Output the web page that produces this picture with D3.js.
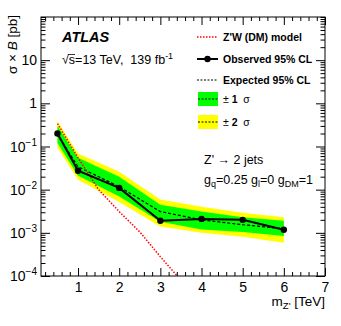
<!DOCTYPE html>
<html>
<head>
<meta charset="utf-8">
<script src="https://cdn.jsdelivr.net/npm/d3@7"></script>
<style>
  body { margin: 0; background: #fff; }
  svg { font-family: "Liberation Sans", Arial, sans-serif; }
  .axis path { display: none; }
  .axis line { stroke: #000; stroke-width: 1; }
  .axis text { font-size: 14px; fill: #000; }
</style>
</head>
<body>
<svg id="chart" width="341" height="326"></svg>
<script>
// mass points (TeV) of the limit
const massPoints = [0.5, 1, 2, 3, 4, 5, 6];
const observed = [0.2, 0.0275, 0.011, 0.0019, 0.0021, 0.002, 0.00118];
const expected = [0.19, 0.034, 0.0117, 0.0031, 0.0020, 0.00154, 0.00124];
const minus1 = [0.12, 0.021, 0.0069, 0.0018, 0.0012, 0.00105, 0.00085];
const plus1 = [0.30, 0.055, 0.020, 0.0045, 0.0031, 0.0023, 0.0019];
const minus2 = [0.095, 0.017, 0.0052, 0.0014, 0.0010, 0.00081, 0.00059];
const plus2 = [0.38, 0.069, 0.026, 0.0059, 0.0040, 0.0029, 0.0023];

// Z'W (DM) model curve
const modelMass = [0.5, 1, 1.5, 2, 2.5, 3, 3.5];
const modelXsec = [0.34, 0.055, 0.01, 0.0031, 0.00105, 0.00028, 0.00008];

const xTicks = [1, 2, 3, 4, 5, 6, 7];
const yTicks = [1e-4, 1e-3, 1e-2, 1e-1, 1, 10];
const yTickLabels = [["10", "\u22124"], ["10", "\u22123"], ["10", "\u22122"], ["10", "\u22121"], ["1", ""], ["10", ""]];

const svg = d3.select("#chart");
const mLeft = 41, mRight = 325, mTop = 17, mBottom = 276;

const x = d3.scaleLinear().domain([0.1, 7]).range([mLeft, mRight]);
const y = d3.scaleLog().domain([1e-4, 100]).range([mBottom, mTop]);

svg.append("clipPath").attr("id", "clip")
  .append("rect").attr("x", mLeft).attr("y", mTop).attr("width", mRight - mLeft).attr("height", mBottom - mTop);

const plot = svg.append("g").attr("clip-path", "url(#clip)");

// bands
const band = (lo, hi) => d3.area()
  .x((d, i) => x(massPoints[i]))
  .y0((d, i) => y(lo[i]))
  .y1((d, i) => y(hi[i]));

plot.append("path").datum(massPoints).attr("d", band(minus2, plus2)).attr("fill", "#ffff00");
plot.append("path").datum(massPoints).attr("d", band(minus1, plus1)).attr("fill", "#00ff00");

const line = (vals, xs) => d3.line()
  .x((d, i) => x(xs[i]))
  .y((d, i) => y(vals[i]));

plot.append("path").datum(massPoints).attr("d", line(expected, massPoints))
  .attr("fill", "none").attr("stroke", "#000").attr("stroke-width", 1.2).attr("stroke-dasharray", "3,2");

plot.append("path").datum(modelMass).attr("d", line(modelXsec, modelMass))
  .attr("fill", "none").attr("stroke", "#ff0000").attr("stroke-width", 1.5).attr("stroke-dasharray", "1.5,1.5");

plot.append("path").datum(massPoints).attr("d", line(observed, massPoints))
  .attr("fill", "none").attr("stroke", "#000").attr("stroke-width", 2);

plot.selectAll("circle.obs").data(massPoints).enter().append("circle")
  .attr("class", "obs")
  .attr("cx", d => x(d))
  .attr("cy", (d, i) => y(observed[i]))
  .attr("r", 3.2).attr("fill", "#000");

// axes (ROOT style: ticks inward, mirrored)
const xMinor = d3.range(2, 70, 2).map(d => d / 10).filter(d => d % 1 !== 0);
const yMinor = y.ticks().filter(d => yTicks.indexOf(d) < 0);

svg.append("g").attr("class", "axis").attr("transform", `translate(0,${mBottom})`)
  .call(d3.axisBottom(x).tickValues(xMinor).tickSize(-4).tickFormat(""));
svg.append("g").attr("class", "axis").attr("transform", `translate(0,${mBottom})`)
  .call(d3.axisBottom(x).tickValues(xTicks).tickSize(-8).tickFormat(d3.format("d")))
  .selectAll("text").attr("y", 5).attr("dy", "0.8em");
svg.append("g").attr("class", "axis").attr("transform", `translate(0,${mTop})`)
  .call(d3.axisTop(x).tickValues(xMinor).tickSize(-4).tickFormat(""));
svg.append("g").attr("class", "axis").attr("transform", `translate(0,${mTop})`)
  .call(d3.axisTop(x).tickValues(xTicks).tickSize(-8).tickFormat(""));

svg.append("g").attr("class", "axis").attr("transform", `translate(${mLeft},0)`)
  .call(d3.axisLeft(y).tickValues(yMinor).tickSize(-4.5).tickFormat(""));
svg.append("g").attr("class", "axis").attr("transform", `translate(${mLeft},0)`)
  .call(d3.axisLeft(y).tickValues(yTicks).tickSize(-9).tickFormat(""));
svg.append("g").attr("class", "axis").attr("transform", `translate(${mRight},0)`)
  .call(d3.axisRight(y).tickValues(yMinor).tickSize(-4.5).tickFormat(""));
svg.append("g").attr("class", "axis").attr("transform", `translate(${mRight},0)`)
  .call(d3.axisRight(y).tickValues(yTicks).tickSize(-9).tickFormat(""));

// y tick labels with superscripts
yTicks.forEach((v, i) => {
  const t = svg.append("text").attr("x", 37).attr("y", y(v) + 5)
    .attr("text-anchor", "end").attr("font-size", 14);
  t.append("tspan").text(yTickLabels[i][0]);
  if (yTickLabels[i][1]) {
    t.append("tspan").attr("dy", -6).attr("font-size", 10).text(yTickLabels[i][1]);
  }
});

// frame
svg.append("rect").attr("x", mLeft).attr("y", mTop).attr("width", mRight - mLeft).attr("height", mBottom - mTop)
  .attr("fill", "none").attr("stroke", "#000").attr("stroke-width", 1);

// axis titles
const xt = svg.append("text").attr("x", mRight).attr("y", 306).attr("text-anchor", "end").attr("font-size", 13.5);
xt.append("tspan").text("m");
xt.append("tspan").attr("dy", 3).attr("font-size", 9.5).text("Z'");
xt.append("tspan").attr("dy", -3).text("\u00a0[TeV]");

const yt = svg.append("text").attr("transform", "translate(17,15) rotate(-90)")
  .attr("text-anchor", "end").attr("font-size", 13.5);
yt.append("tspan").text("\u03c3 \u00d7 ");
yt.append("tspan").attr("font-style", "italic").text("B");
yt.append("tspan").text(" [pb]");

// ATLAS label
svg.append("text").attr("x", 62).attr("y", 42).attr("font-size", 14.5)
  .attr("font-weight", "bold").attr("font-style", "italic").text("ATLAS");
const en = svg.append("text").attr("x", 62).attr("y", 64).attr("font-size", 12.5);
en.append("tspan").text("\u221as=13 TeV,\u00a0\u00a0139 fb");
en.append("tspan").attr("dy", -5).attr("font-size", 9).text("-1");
// overline on sqrt
svg.append("line").attr("x1", 68).attr("x2", 75).attr("y1", 54.5).attr("y2", 54.5)
  .attr("stroke", "#000").attr("stroke-width", 0.8);

// legend
const lx0 = 197, lx1 = 218, tx = 223;
const legend = svg.append("g").attr("font-size", 10.5).attr("font-weight", "bold");
legend.append("line").attr("x1", lx0).attr("x2", lx1).attr("y1", 37).attr("y2", 37)
  .attr("stroke", "#ff0000").attr("stroke-width", 1.5).attr("stroke-dasharray", "1.5,1.5");
legend.append("text").attr("x", tx).attr("y", 41).text("Z'W (DM) model");

legend.append("line").attr("x1", lx0).attr("x2", lx1).attr("y1", 59).attr("y2", 59)
  .attr("stroke", "#000").attr("stroke-width", 2);
legend.append("circle").attr("cx", (lx0 + lx1) / 2).attr("cy", 59).attr("r", 3.2).attr("fill", "#000");
legend.append("text").attr("x", tx).attr("y", 63).text("Observed 95% CL");

legend.append("line").attr("x1", lx0).attr("x2", lx1).attr("y1", 80).attr("y2", 80)
  .attr("stroke", "#000").attr("stroke-width", 1.2).attr("stroke-dasharray", "2,1.5");
legend.append("text").attr("x", tx).attr("y", 84).text("Expected 95% CL");

[["#00ff00", 92, "1"], ["#ffff00", 115, "2"]].forEach(([c, yy, n]) => {
  legend.append("rect").attr("x", lx0 + 1).attr("y", yy).attr("width", lx1 - lx0 - 1).attr("height", 14).attr("fill", c);
  legend.append("line").attr("x1", lx0 + 1).attr("x2", lx1).attr("y1", yy + 7).attr("y2", yy + 7)
    .attr("stroke", "#000").attr("stroke-width", 1).attr("stroke-dasharray", "2,1.5");
  const t = legend.append("text").attr("x", tx).attr("y", yy + 11);
  t.append("tspan").attr("font-weight", "normal").text("\u00b1\u00a0");
  t.append("tspan").text(n);
  t.append("tspan").attr("font-weight", "normal").text("\u00a0\u00a0\u03c3");
});

// process labels
svg.append("text").attr("x", 204).attr("y", 164).attr("font-size", 12.5).text("Z' \u2192 2 jets");
const gl = svg.append("text").attr("x", 204).attr("y", 184).attr("font-size", 12.5);
gl.append("tspan").text("g");
gl.append("tspan").attr("dy", 3).attr("font-size", 9).text("q");
gl.append("tspan").attr("dy", -3).text("=0.25 g");
gl.append("tspan").attr("dy", 3).attr("font-size", 9).text("l");
gl.append("tspan").attr("dy", -3).text("=0 g");
gl.append("tspan").attr("dy", 3).attr("font-size", 9).text("DM");
gl.append("tspan").attr("dy", -3).text("=1");
</script>
</body>
</html>
